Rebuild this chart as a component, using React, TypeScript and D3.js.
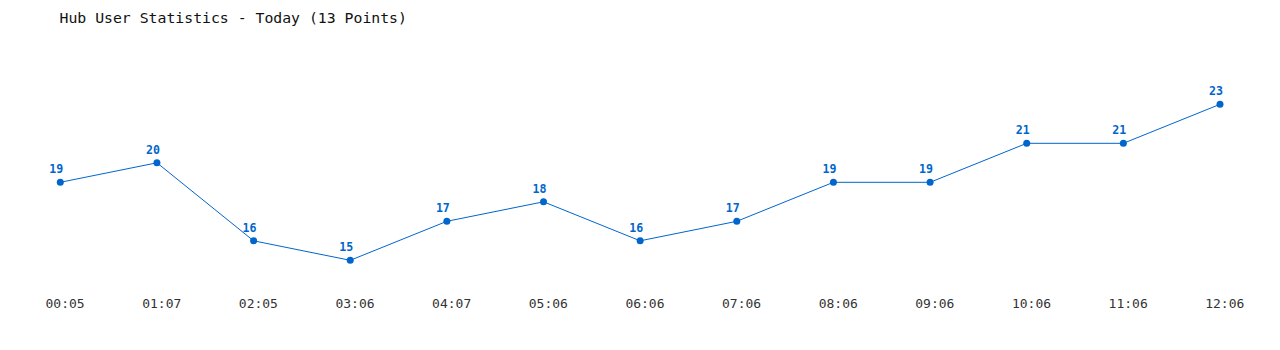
import React from "react";
import * as d3 from "d3";

const title = "Hub User Statistics - Today (13 Points)";
const times = ["00:05", "01:07", "02:05", "03:06", "04:07", "05:06", "06:06", "07:06", "08:06", "09:06", "10:06", "11:06", "12:06"];
const users = [19, 20, 16, 15, 17, 18, 16, 17, 19, 19, 21, 21, 23];
const yDomain = [15, 23];

const W = 1280;
const H = 350;
const BLUE = "#0066cc";
const MONO = "'DejaVu Sans Mono', 'Liberation Mono', monospace";

export default function App() {
  const x = d3.scalePoint<string>().domain(times).range([60.3, 1220]);
  const y = d3.scaleLinear().domain(yDomain).range([260.3, 104.3]);
  const line = d3
    .line<number>()
    .x((_, i) => x(times[i]) as number)
    .y((d) => y(d));

  return (
    <svg
      width={W}
      height={H}
      style={{ position: "absolute", left: 0, top: 0, background: "#fff" }}
    >
      <rect width={W} height={H} fill="#fff" />
      <text x={59.5} y={22.5} fontFamily={MONO} fontSize={14.8} fill="#111">
        {title}
      </text>
      <path d={line(users) || ""} fill="none" stroke={BLUE} strokeWidth={1} />
      {users.map((v, i) => (
        <g key={i}>
          <circle cx={x(times[i])} cy={y(v)} r={3.5} fill={BLUE} />
          <text
            x={(x(times[i]) as number) - 4}
            y={y(v) - 9}
            textAnchor="middle"
            fontFamily={MONO}
            fontWeight="bold"
            fontSize={11.6}
            fill={BLUE}
          >
            {v}
          </text>
        </g>
      ))}
      {times.map((t) => (
        <text
          key={t}
          x={(x(t) as number) + 4.8}
          y={308}
          textAnchor="middle"
          fontFamily={MONO}
          fontSize={13}
          fill="#333"
        >
          {t}
        </text>
      ))}
    </svg>
  );
}
